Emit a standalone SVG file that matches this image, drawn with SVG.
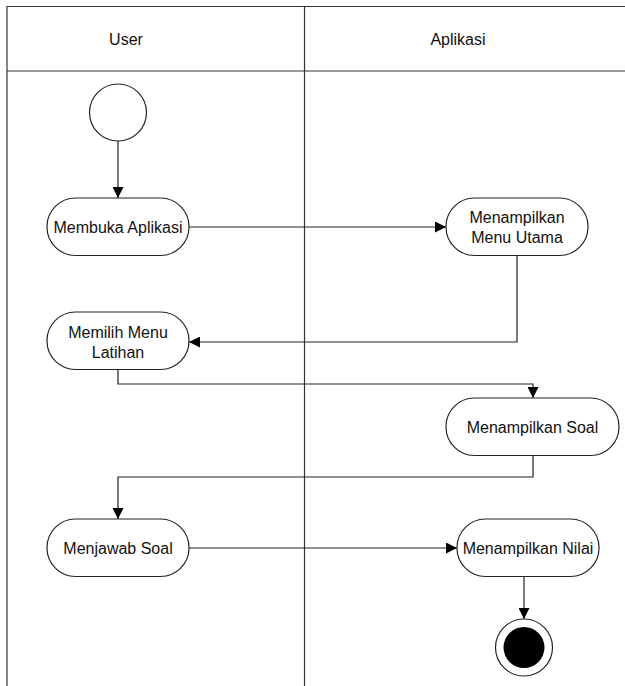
<svg xmlns="http://www.w3.org/2000/svg" width="625" height="686" viewBox="0 0 625 686">
<style>
.lane{stroke:#333;stroke-width:1.2;fill:none}
.node{fill:#fff;stroke:#222;stroke-width:1.2}
.edge{stroke:#222;stroke-width:1.2;fill:none}
text{font-family:"Liberation Sans",Arial,sans-serif;font-size:16px;fill:#111;text-anchor:middle;dominant-baseline:central}
</style>
<defs>
<marker id="arr" viewBox="0 0 10 10" refX="10" refY="5" markerWidth="11" markerHeight="11" markerUnits="userSpaceOnUse" orient="auto">
<path d="M0,0 L10,5 L0,10 Z" fill="#000"/>
</marker>
</defs>
<g id="lanes">
<line class="lane" x1="7" y1="6.5" x2="625" y2="6.5"/>
<line class="lane" x1="7" y1="71" x2="625" y2="71"/>
<line class="lane" x1="7" y1="6" x2="7" y2="686"/>
<line class="lane" x1="304.5" y1="6" x2="304.5" y2="686"/>
<text x="126" y="39">User</text>
<text x="458" y="39">Aplikasi</text>
</g>
<g id="connectors">
<path class="edge" d="M118,141 V198" marker-end="url(#arr)"/>
<path class="edge" d="M189,227 H446" marker-end="url(#arr)"/>
<path class="edge" d="M517,255 V342 H189" marker-end="url(#arr)"/>
<path class="edge" d="M118,369 V384 H533 V398" marker-end="url(#arr)"/>
<path class="edge" d="M533,455 V477 H118 V519" marker-end="url(#arr)"/>
<path class="edge" d="M189,548 H457" marker-end="url(#arr)"/>
<path class="edge" d="M524,576 V619" marker-end="url(#arr)"/>
</g>
<g id="start">
<circle class="node" cx="118" cy="112.5" r="28.5"/>
</g>
<g id="membuka">
<rect class="node" x="47" y="198" width="142" height="57.5" rx="28.5"/>
<text x="118" y="227">Membuka Aplikasi</text>
</g>
<g id="menuUtama">
<rect class="node" x="446" y="198" width="142" height="57.5" rx="28.5"/>
<text x="517" y="217">Menampilkan</text>
<text x="517" y="237">Menu Utama</text>
</g>
<g id="memilih">
<rect class="node" x="47" y="312" width="142" height="57.5" rx="28.5"/>
<text x="118" y="332">Memilih Menu</text>
<text x="118" y="352">Latihan</text>
</g>
<g id="soal">
<rect class="node" x="446" y="398" width="173" height="57.5" rx="28.5"/>
<text x="532.5" y="427">Menampilkan Soal</text>
</g>
<g id="menjawab">
<rect class="node" x="47" y="519" width="142" height="57.5" rx="28.5"/>
<text x="118" y="548">Menjawab Soal</text>
</g>
<g id="nilai">
<rect class="node" x="457" y="519" width="142" height="57.5" rx="28.5"/>
<text x="528" y="548">Menampilkan Nilai</text>
</g>
<g id="end">
<circle class="node" cx="524" cy="647.5" r="28.5"/>
<circle cx="524" cy="647.5" r="20.5" fill="#000"/>
</g>
</svg>
